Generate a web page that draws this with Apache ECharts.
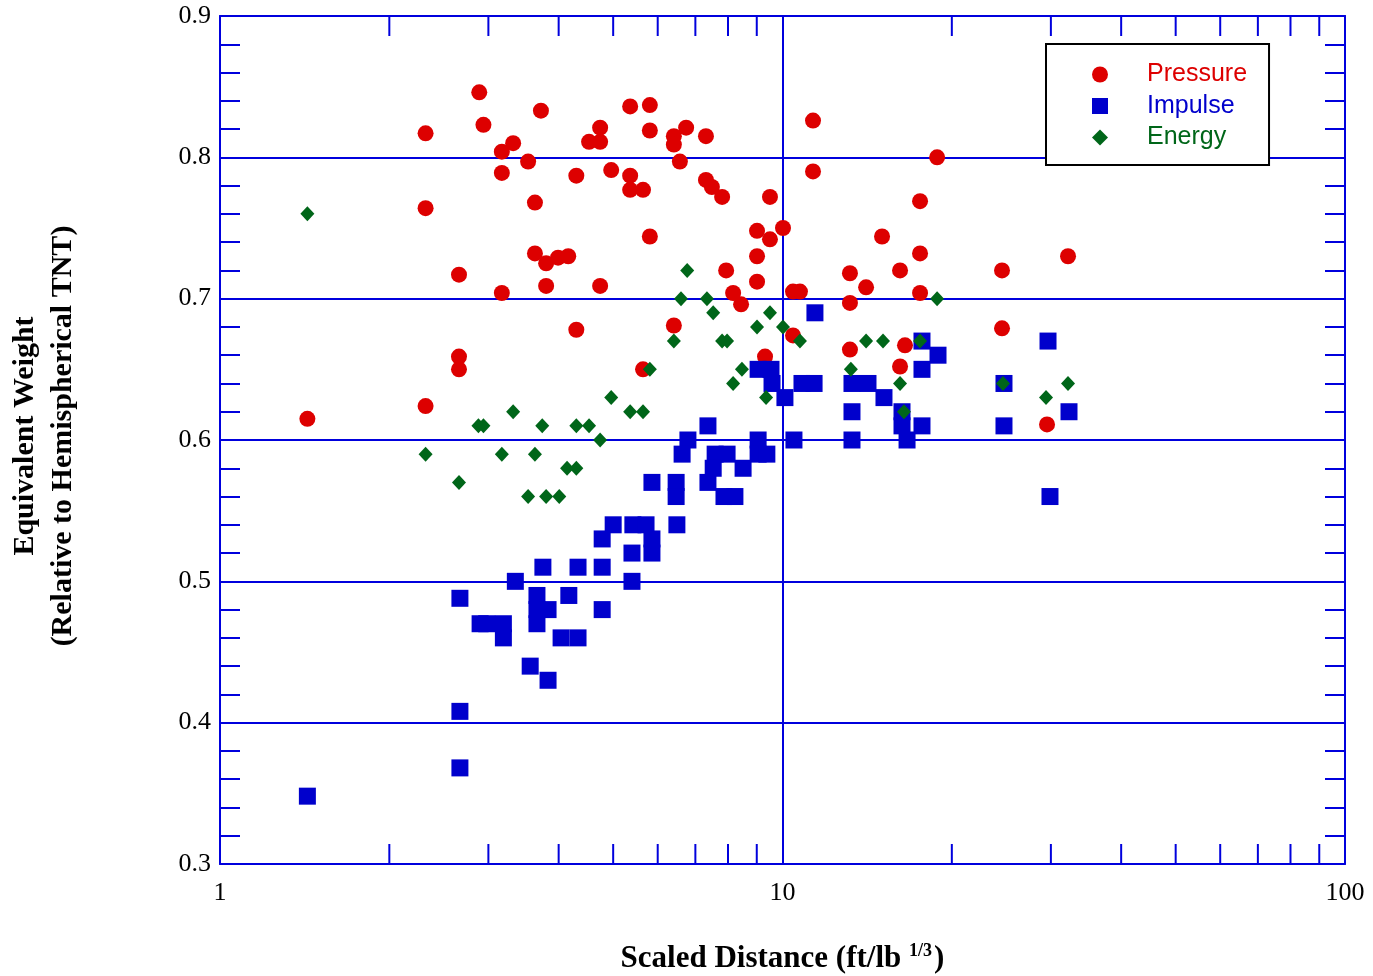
<!DOCTYPE html>
<html>
<head>
<meta charset="utf-8">
<title>Equivalent Weight vs Scaled Distance</title>
<script src="https://cdn.jsdelivr.net/npm/echarts@6/dist/echarts.min.js"></script>
<style>
  html, body { margin: 0; padding: 0; background: #fff; }
  #chart { width: 1373px; height: 976px; }
</style>
</head>
<body>
<div id="chart"></div>
<script>
  // scaled distance (ft/lb^1/3), equivalent weight
  var pressure = [
    [1.43, 0.615], [2.32, 0.817], [2.32, 0.764], [2.32, 0.624], [2.66, 0.717],
    [2.66, 0.659], [2.66, 0.650], [2.89, 0.846], [2.94, 0.823], [3.17, 0.804],
    [3.17, 0.789], [3.17, 0.704], [3.32, 0.810], [3.53, 0.797], [3.63, 0.768],
    [3.63, 0.732], [3.72, 0.833], [3.80, 0.725], [3.80, 0.709], [3.99, 0.729],
    [4.16, 0.730], [4.30, 0.787], [4.30, 0.678], [4.53, 0.811], [4.74, 0.821],
    [4.74, 0.811], [4.74, 0.709], [4.96, 0.791], [5.36, 0.836], [5.36, 0.787],
    [5.36, 0.777], [5.65, 0.777], [5.65, 0.650], [5.81, 0.837], [5.81, 0.819],
    [5.81, 0.744], [6.41, 0.815], [6.41, 0.809], [6.41, 0.681], [6.57, 0.797],
    [6.74, 0.821], [7.31, 0.815], [7.31, 0.784], [7.49, 0.779], [7.81, 0.772],
    [7.94, 0.720], [8.17, 0.704], [8.44, 0.696], [9.01, 0.748], [9.01, 0.730],
    [9.01, 0.712], [9.31, 0.659], [9.50, 0.772], [9.50, 0.742], [10.02, 0.750],
    [10.44, 0.705], [10.74, 0.705], [10.44, 0.674], [11.33, 0.826], [11.33, 0.790],
    [13.18, 0.718], [13.18, 0.697], [13.18, 0.664], [14.08, 0.708], [15.03, 0.744],
    [16.18, 0.720], [16.18, 0.652], [16.51, 0.667], [17.56, 0.769], [17.56, 0.732],
    [17.56, 0.704], [18.83, 0.800], [24.56, 0.720], [24.56, 0.679], [29.53, 0.611],
    [32.18, 0.730]
  ];

  var impulse = [
    [1.43, 0.348], [2.67, 0.368], [2.67, 0.408], [2.67, 0.488], [3.35, 0.50],
    [3.75, 0.51], [4.33, 0.51], [4.78, 0.51], [5.40, 0.50], [5.00, 0.54],
    [5.42, 0.54], [5.72, 0.54], [4.78, 0.53], [5.86, 0.53], [5.86, 0.52],
    [5.40, 0.52], [6.49, 0.54], [2.90, 0.47], [2.98, 0.47], [3.19, 0.47],
    [3.19, 0.46], [3.66, 0.49], [3.66, 0.48], [3.66, 0.47], [3.83, 0.48],
    [4.17, 0.49], [4.04, 0.46], [4.33, 0.46], [3.56, 0.44], [3.83, 0.43],
    [4.78, 0.48], [11.42, 0.69], [17.70, 0.67], [18.90, 0.66], [17.70, 0.65],
    [29.65, 0.67], [32.31, 0.62], [24.76, 0.64], [24.76, 0.61], [29.89, 0.56],
    [9.05, 0.65], [9.54, 0.65], [9.58, 0.64], [10.10, 0.63], [10.83, 0.64],
    [11.38, 0.64], [13.29, 0.64], [14.19, 0.64], [15.15, 0.63], [13.29, 0.62],
    [16.31, 0.62], [16.31, 0.61], [17.70, 0.61], [16.65, 0.60], [13.29, 0.60],
    [10.48, 0.60], [9.05, 0.60], [9.05, 0.59], [9.38, 0.59], [7.37, 0.61],
    [6.79, 0.60], [6.63, 0.59], [7.59, 0.59], [7.97, 0.59], [7.53, 0.58],
    [8.51, 0.58], [7.37, 0.57], [5.86, 0.57], [6.47, 0.57], [6.47, 0.56],
    [7.87, 0.56], [8.23, 0.56]
  ];

  var energy = [
    [1.43, 0.76], [6.77, 0.72], [6.60, 0.70], [7.34, 0.70], [7.53, 0.69],
    [9.50, 0.69], [9.01, 0.68], [10.02, 0.68], [6.41, 0.67], [7.81, 0.67],
    [7.97, 0.67], [10.74, 0.67], [14.08, 0.67], [15.09, 0.67], [17.56, 0.67],
    [18.83, 0.70], [5.81, 0.65], [8.47, 0.65], [13.23, 0.65], [8.17, 0.64],
    [16.18, 0.64], [24.66, 0.64], [32.18, 0.64], [29.41, 0.63], [9.35, 0.63],
    [4.96, 0.63], [5.36, 0.62], [5.65, 0.62], [16.44, 0.62], [3.32, 0.62],
    [2.88, 0.61], [2.94, 0.61], [3.74, 0.61], [4.30, 0.61], [4.53, 0.61],
    [4.74, 0.60], [2.32, 0.59], [3.17, 0.59], [3.63, 0.59], [4.14, 0.58],
    [4.30, 0.58], [2.66, 0.57], [3.53, 0.56], [3.80, 0.56], [4.01, 0.56]
  ];

  // minor ticks of the log axis: 2..9 and 20..90
  var logMinorTicks = [2, 3, 4, 5, 6, 7, 8, 9, 20, 30, 40, 50, 60, 70, 80, 90];

  var blue = '#0000dd';
  var serif = 'Liberation Serif';
  var sans = 'Liberation Sans';

  var yAxisBase = {
    type: 'value',
    min: 0.3,
    max: 0.9,
    interval: 0.1,
    axisLine: { show: true, lineStyle: { color: blue, width: 2 } },
    axisTick: { show: true, inside: true, length: 20, lineStyle: { color: blue, width: 2 } },
    minorTick: { show: true, splitNumber: 5, length: 20, lineStyle: { color: blue, width: 2 } }
  };

  var option = {
    animation: false,
    backgroundColor: '#fff',
    grid: { left: 220, right: 28, top: 16, bottom: 112, outerBoundsMode: 'none', containLabel: false },
    legend: {
      orient: 'vertical',
      left: 1046,
      top: 44,
      padding: [18, 22, 15, 46],
      itemWidth: 16,
      itemHeight: 16,
      itemGap: 6.5,
      symbolKeepAspect: true,
      borderColor: '#000',
      borderWidth: 2,
      backgroundColor: '#fff',
      textStyle: { fontFamily: sans, fontSize: 25, lineHeight: 24, padding: [0, 0, 0, 34] },
      data: [
        { name: 'Pressure', textStyle: { color: '#dd0000' } },
        { name: 'Impulse', textStyle: { color: '#0000cc' } },
        { name: 'Energy', textStyle: { color: '#006619' } }
      ]
    },
    xAxis: [
      {
        type: 'log',
        logBase: 10,
        min: 1,
        max: 100,
        name: 'Scaled Distance (ft/lb {sup|1/3})',
        nameLocation: 'middle',
        nameGap: 78,
        nameTextStyle: {
          fontFamily: serif, fontWeight: 'bold', fontSize: 31, color: '#000', lineHeight: 34,
          rich: {
            sup: { fontFamily: serif, fontWeight: 'bold', fontSize: 18, color: '#000', lineHeight: 18, verticalAlign: 'top', padding: [0, 2, 0, 0] }
          }
        },
        axisLine: { show: true, lineStyle: { color: blue, width: 2 } },
        axisTick: { show: false },
        minorTick: { show: false },
        splitLine: { show: true, lineStyle: { color: blue, width: 2 } },
        axisLabel: { fontFamily: serif, fontSize: 26, color: '#000', margin: 16 }
      },
      {
        type: 'log',
        logBase: 10,
        min: 1,
        max: 100,
        position: 'top',
        axisLine: { show: true, lineStyle: { color: blue, width: 2 } },
        axisTick: { show: false },
        axisLabel: { show: false },
        splitLine: { show: false }
      }
    ],
    yAxis: [
      Object.assign({}, yAxisBase, {
        position: 'left',
        name: 'Equivalent Weight\n(Relative to Hemispherical TNT)',
        nameLocation: 'middle',
        nameRotate: 90,
        nameGap: 138,
        nameTextStyle: { fontFamily: serif, fontWeight: 'bold', fontSize: 30, lineHeight: 38, color: '#000', padding: [0, 0, 0, 8] },
        splitLine: { show: true, lineStyle: { color: blue, width: 2 } },
        axisLabel: {
          fontFamily: serif, fontSize: 26, color: '#000', margin: 9,
          formatter: function (v) { return v.toFixed(1); }
        }
      }),
      Object.assign({}, yAxisBase, {
        position: 'right',
        axisLabel: { show: false },
        splitLine: { show: false }
      })
    ],
    series: [
      {
        type: 'custom',
        silent: true,
        clip: false,
        xAxisIndex: 0,
        yAxisIndex: 0,
        data: logMinorTicks.map(function (v) { return [v, 0.3]; }),
        renderItem: function (params, api) {
          var x = api.value(0);
          var b = api.coord([x, 0.3]);
          var t = api.coord([x, 0.9]);
          var st = { stroke: blue, lineWidth: 2 };
          return {
            type: 'group',
            children: [
              { type: 'line', shape: { x1: b[0], y1: b[1], x2: b[0], y2: b[1] - 20 }, style: st },
              { type: 'line', shape: { x1: t[0], y1: t[1], x2: t[0], y2: t[1] + 20 }, style: st }
            ]
          };
        }
      },
      {
        name: 'Pressure',
        type: 'scatter',
        symbol: 'circle',
        symbolSize: 16,
        symbolKeepAspect: true,
        itemStyle: { color: '#dd0000', opacity: 1 },
        data: pressure
      },
      {
        name: 'Impulse',
        type: 'scatter',
        symbol: 'rect',
        symbolSize: 17,
        symbolKeepAspect: true,
        itemStyle: { color: '#0000cc', opacity: 1 },
        data: impulse
      },
      {
        name: 'Energy',
        type: 'scatter',
        symbol: 'diamond',
        symbolSize: [14, 15],
        symbolKeepAspect: true,
        itemStyle: { color: '#006619', opacity: 1 },
        data: energy
      }
    ]
  };

  var myChart = echarts.init(document.getElementById('chart'));
  myChart.setOption(option);
</script>
</body>
</html>
